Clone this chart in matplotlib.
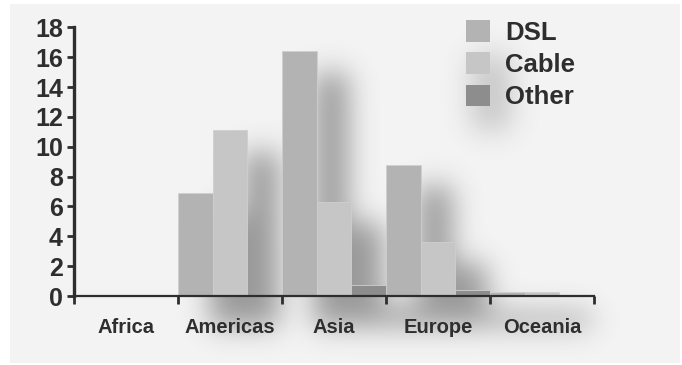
import matplotlib
matplotlib.use("Agg")
import matplotlib.pyplot as plt
import numpy as np
from matplotlib.patches import Rectangle

categories = ["Africa", "Americas", "Asia", "Europe", "Oceania"]
series = ["DSL", "Cable", "Other"]
dsl = [0, 6.9, 16.4, 8.8, 0.3]
cable = [0, 11.1, 6.3, 3.6, 0.3]
other = [0, 0, 0.75, 0.4, 0]
colors = ["#b3b3b3", "#c6c6c6", "#8d8d8d"]
yticks = list(range(0, 19, 2))

TEXT = "#2e2e2e"
W, H = 682, 365


def gaussian_blur(img, sigma):
    r = int(3 * sigma)
    x = np.arange(-r, r + 1)
    k = np.exp(-x ** 2 / (2 * sigma ** 2))
    k /= k.sum()
    img = np.apply_along_axis(lambda m: np.convolve(m, k, mode="same"), 0, img)
    img = np.apply_along_axis(lambda m: np.convolve(m, k, mode="same"), 1, img)
    return img


fig = plt.figure(figsize=(W / 100, H / 100), dpi=100)
fig.patch.set_facecolor("white")
# grey panel behind the chart
fig.patches.append(Rectangle((10 / W, 2 / H), 670 / W, 359 / H,
                             transform=fig.transFigure, facecolor="#f3f3f3",
                             edgecolor="none", zorder=-3))

ax = fig.add_axes([74 / W, 69 / H, 520 / W, 268.7 / H])
ax.patch.set_alpha(0)
ax.set_xlim(0, 5)
ax.set_ylim(0, 18)

values = [dsl, cable, other]
bar_w = 1 / 3
for s, (name, vals) in enumerate(zip(series, values)):
    xs = np.arange(len(categories)) + s * bar_w
    ax.bar(xs, vals, width=bar_w, align="edge", color=colors[s],
           edgecolor="#cfcfcf", linewidth=0.6, label=name, zorder=2)

# soft drop shadows cast by the bars
mask = np.zeros((H, W))
dx, dy, ext = 32, 22, 30
for s, vals in enumerate(values):
    for i, v in enumerate(vals):
        if v <= 0:
            continue
        (x0, y0), (x1, y1) = ax.transData.transform(
            [(i + s * bar_w, 0), (i + (s + 1) * bar_w, v)])
        c0, c1 = int(x0 + dx), int(x1 + dx)
        r0, r1 = int(H - y1 + dy), int(H - y0 + ext)
        mask[max(r0, 0):min(r1, H), max(c0, 0):min(c1, W)] = 1
# shadow under the legend swatches
mask[55:130, 472:510] = np.maximum(mask[55:130, 472:510], 0.5)
shadow = gaussian_blur(mask, 14)
rgba = np.zeros((H, W, 4))
rgba[..., :3] = 0.25
rgba[..., 3] = np.clip(shadow, 0, 1) * 0.5
fig.figimage(rgba, 0, 0, origin="upper", zorder=-2)

for side in ("top", "right"):
    ax.spines[side].set_visible(False)
ax.spines["left"].set_linewidth(2.4)
ax.spines["left"].set_color(TEXT)
ax.spines["bottom"].set_linewidth(1.6)
ax.spines["bottom"].set_color(TEXT)

ax.set_yticks(yticks)
ax.set_yticklabels([str(t) for t in yticks], fontfamily="Liberation Sans",
                   fontweight="bold", fontsize=18, color=TEXT)
ax.tick_params(axis="y", length=5, width=2, color=TEXT, pad=3)

ax.set_xticks(range(len(categories) + 1))
ax.set_xticklabels([])
ax.tick_params(axis="x", which="major", length=6, width=2, color=TEXT)
ax.set_xticks(np.arange(len(categories)) + 0.5, minor=True)
ax.set_xticklabels(categories, minor=True, fontfamily="Liberation Sans",
                   fontweight="bold", fontsize=14.5, color=TEXT)
ax.tick_params(axis="x", which="minor", length=0, pad=16)

leg = ax.legend(loc="upper left", bbox_to_anchor=(466 / W, 1 - 20 / H),
                bbox_transform=fig.transFigure, frameon=False,
                prop={"family": "Liberation Sans", "weight": "bold", "size": 18.5},
                handlelength=0.92, handleheight=0.92, handletextpad=0.6,
                labelspacing=0.3, borderpad=0, borderaxespad=0)
for t in leg.get_texts():
    t.set_color(TEXT)
for p in leg.get_patches():
    p.set_edgecolor("none")

fig.savefig("out.png", dpi=100)
